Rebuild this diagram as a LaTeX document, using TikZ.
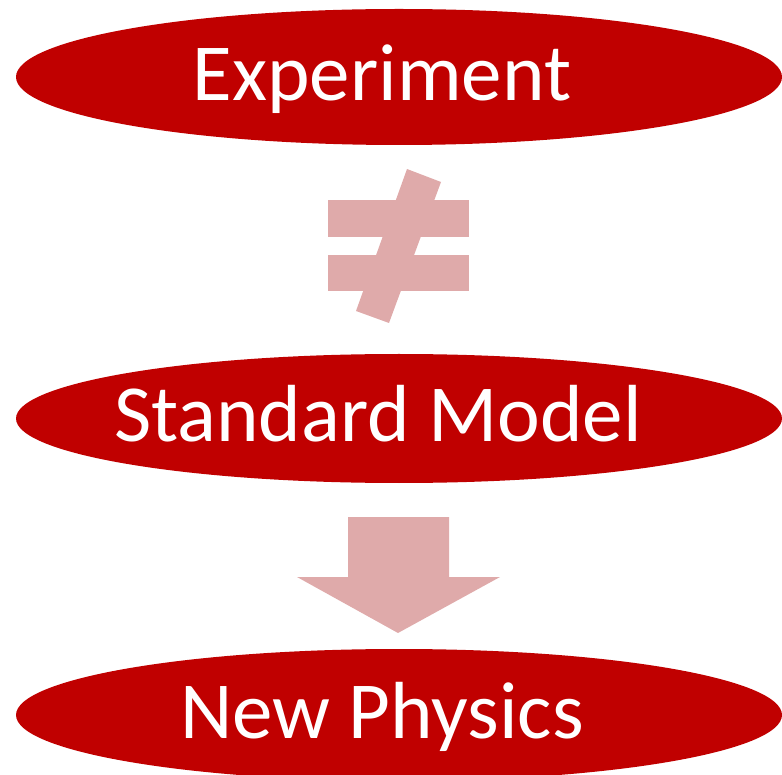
\documentclass[tikz,border=0pt]{standalone}
\usepackage{fontspec}
\setmainfont{Carlito}
\usepackage{xcolor}
\usetikzlibrary{shapes.geometric}
\definecolor{boxred}{HTML}{C00000}
\definecolor{signpink}{HTML}{DFAAAA}
\tikzset{
  blob/.style ={ellipse, fill=boxred, inner sep=0pt, minimum width=766pt},
  word/.style ={anchor=base, text=white, inner sep=0pt, font=\fontsize{81}{97}\selectfont},
  sign/.style ={fill=signpink, draw=none},
}
\begin{document}
\begin{tikzpicture}[x=1pt,y=-1pt]
\useasboundingbox (0,0) rectangle (782,775);
% --- ellipses ---
\node[blob, minimum height=136pt] (exp) at (399,77) {};
\node[blob, minimum height=129pt] (sm)  at (399,418.5) {};
\node[blob, minimum height=132pt] (np)  at (399,715) {};
% --- labels ---
\node[word] (explbl) at (382,101) {Experiment};
\node[word] (smlbl)  at (378,442) {Standard Model};
\node[word] (nplbl)  at (382,738) {New Physics};
% not equal between experiment and standard model
\fill[sign] (328,200) rectangle (469,237);
\fill[sign] (328,255) rectangle (469,291);
\fill[sign] (407,169) -- (441,182) -- (389,323) -- (356,311) -- cycle;
% block arrow down to new physics
\fill[sign] (348,517) -- (449,517) -- (449,577) -- (500,577) -- (398,633)
            -- (297,577) -- (348,577) -- cycle;
\end{tikzpicture}
\end{document}
